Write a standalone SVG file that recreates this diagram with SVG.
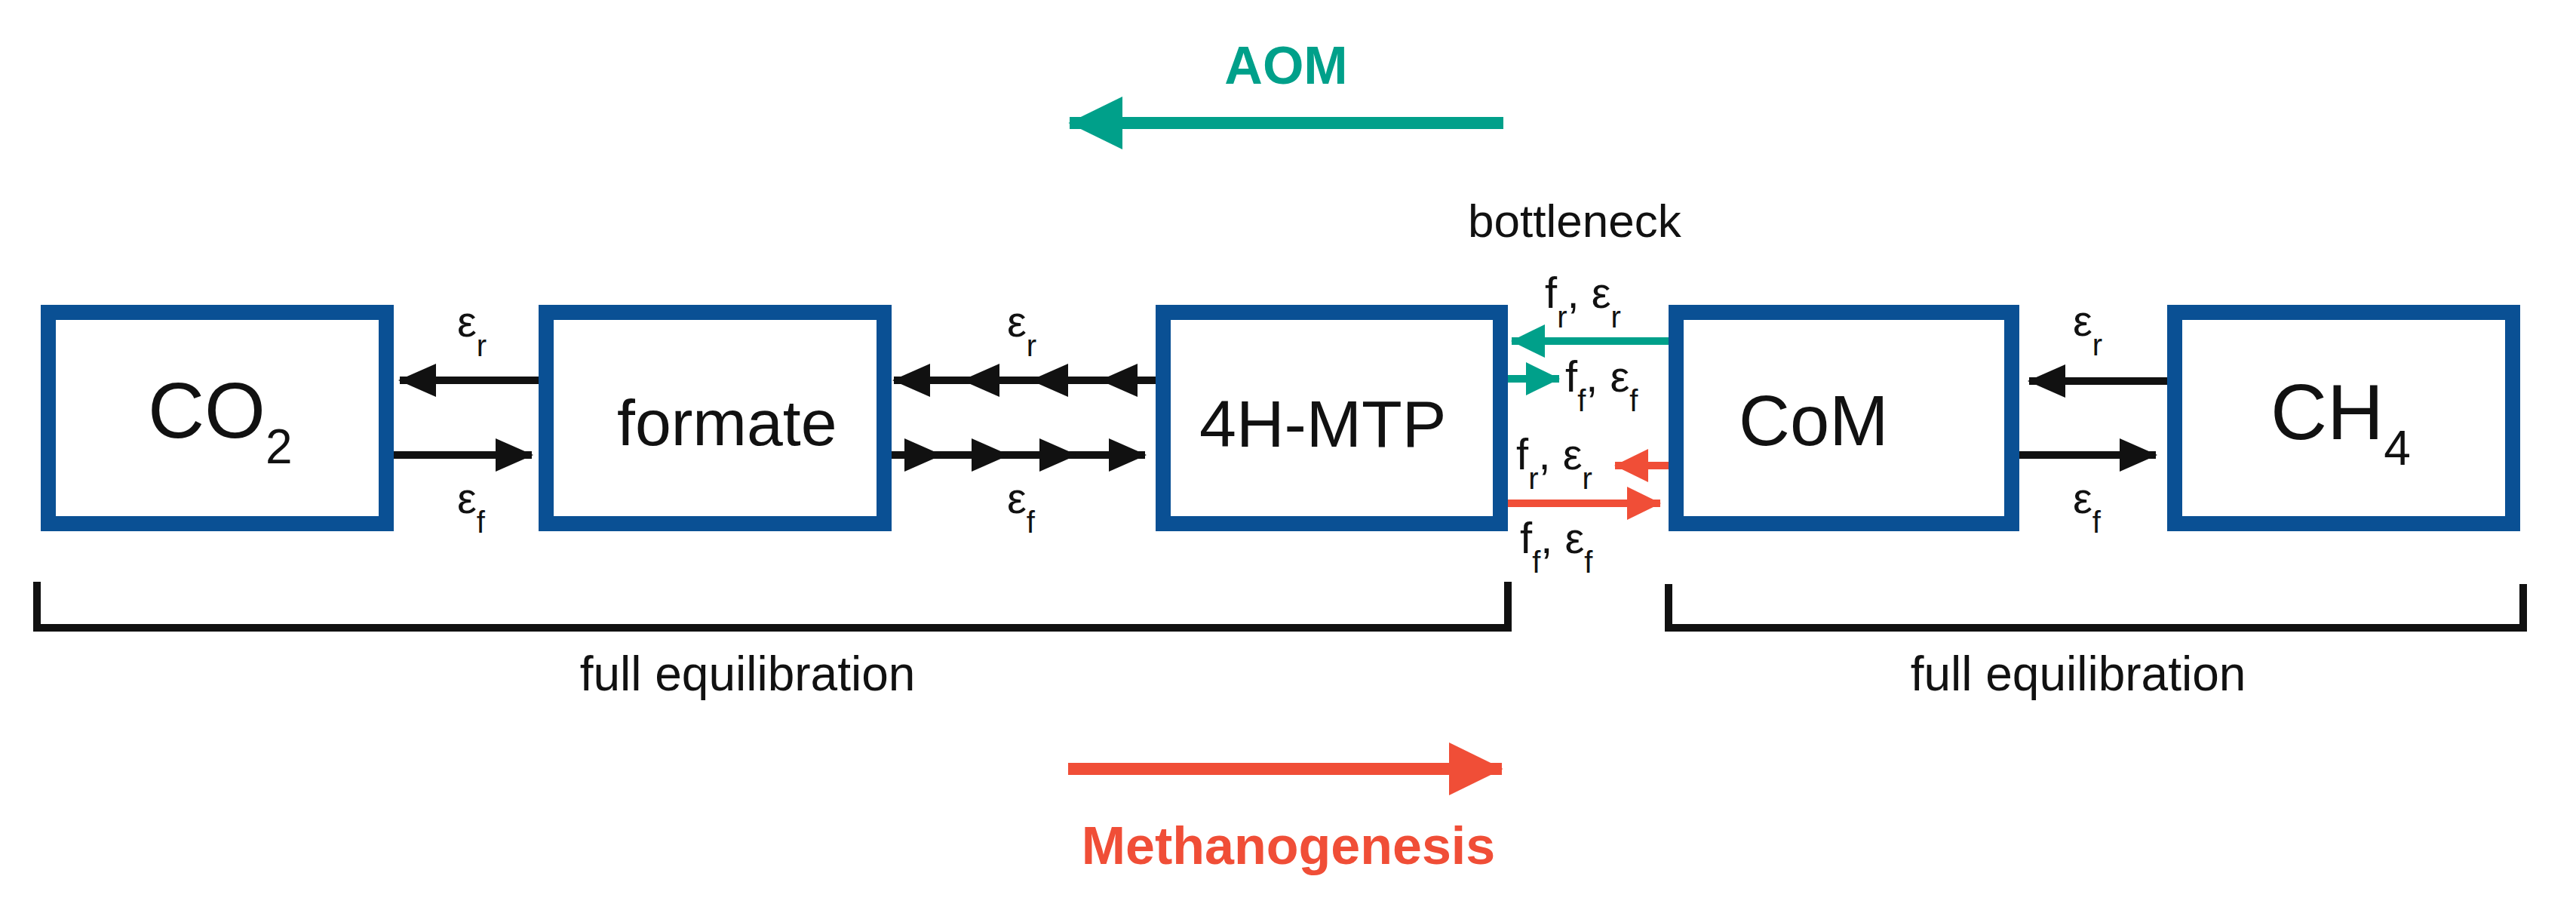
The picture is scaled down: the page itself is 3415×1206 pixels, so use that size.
<svg xmlns="http://www.w3.org/2000/svg" width="3415" height="1206" viewBox="0 0 3415 1206">
<style>
.box{fill:#fff;stroke:#0a5094;stroke-width:20}
.t{font-family:"Liberation Sans",Arial,sans-serif;fill:#111}
.big{font-size:104px}
.eps{font-size:58px}
.sub{font-size:40px}
.nsub{font-size:64px}
.blk{stroke:#111;stroke-width:10;fill:none}
</style>
<defs>
<marker id="hb" markerWidth="5" markerHeight="4.4" refX="4.8" refY="2.2" orient="auto" markerUnits="strokeWidth"><path d="M0,0 L5,2.2 L0,4.4 Z" fill="#111"/></marker>
<marker id="ht" markerWidth="4.5" markerHeight="4.4" refX="4.4" refY="2.2" orient="auto" markerUnits="strokeWidth"><path d="M0,0 L4.5,2.2 L0,4.4 Z" fill="#00a08a"/></marker>
<marker id="hr" markerWidth="4.5" markerHeight="4.4" refX="4.4" refY="2.2" orient="auto" markerUnits="strokeWidth"><path d="M0,0 L4.5,2.2 L0,4.4 Z" fill="#f04e37"/></marker>
</defs>
<rect width="3415" height="1206" fill="#fff"/>
<g id="CO2"><rect class="box" x="64" y="414" width="448" height="280"/><text class="t big" x="196" y="580">CO<tspan class="nsub" dy="34">2</tspan></text></g>
<g id="formate"><rect class="box" x="724" y="414" width="448" height="280"/><text class="t" font-size="86" x="818" y="590">formate</text></g>
<g id="mtp"><rect class="box" x="1542" y="414" width="447" height="280"/><text class="t" font-size="88" x="1590" y="592">4H-MTP</text></g>
<g id="CoM"><rect class="box" x="2222" y="414" width="445" height="280"/><text class="t" font-size="94" x="2305" y="590">CoM</text></g>
<g id="CH4"><rect class="box" x="2883" y="414" width="448" height="280"/><text class="t big" x="3010" y="582">CH<tspan class="nsub" dy="34">4</tspan></text></g>
<g id="connectors">
<line class="blk" x1="714" y1="504" x2="530" y2="504" marker-end="url(#hb)"/>
<line class="blk" x1="522" y1="603" x2="705" y2="603" marker-end="url(#hb)"/>
<line class="blk" x1="1532" y1="504" x2="1460" y2="504" marker-end="url(#hb)"/>
<line class="blk" x1="1460" y1="504" x2="1368" y2="504" marker-end="url(#hb)"/>
<line class="blk" x1="1368" y1="504" x2="1277" y2="504" marker-end="url(#hb)"/>
<line class="blk" x1="1277" y1="504" x2="1185" y2="504" marker-end="url(#hb)"/>
<line class="blk" x1="1182" y1="603" x2="1247" y2="603" marker-end="url(#hb)"/>
<line class="blk" x1="1247" y1="603" x2="1336" y2="603" marker-end="url(#hb)"/>
<line class="blk" x1="1336" y1="603" x2="1426" y2="603" marker-end="url(#hb)"/>
<line class="blk" x1="1426" y1="603" x2="1518" y2="603" marker-end="url(#hb)"/>
<line class="blk" x1="2873" y1="505" x2="2690" y2="505" marker-end="url(#hb)"/>
<line class="blk" x1="2677" y1="603" x2="2858" y2="603" marker-end="url(#hb)"/>
<line stroke="#00a08a" stroke-width="10" x1="2212" y1="452" x2="2004" y2="452" marker-end="url(#ht)"/>
<line stroke="#00a08a" stroke-width="10" x1="1999" y1="502" x2="2067" y2="502" marker-end="url(#ht)"/>
<line stroke="#f04e37" stroke-width="10" x1="2212" y1="617" x2="2141" y2="617" marker-end="url(#hr)"/>
<line stroke="#f04e37" stroke-width="10" x1="1999" y1="667" x2="2201" y2="667" marker-end="url(#hr)"/>
<line stroke="#00a08a" stroke-width="16" x1="1993" y1="163" x2="1418" y2="163" marker-end="url(#ht)"/>
<line stroke="#f04e37" stroke-width="16" x1="1416" y1="1019" x2="1991" y2="1019" marker-end="url(#hr)"/>
<path class="blk" d="M49,771 V832 H1999 V771"/>
<path class="blk" d="M2212,774 V832 H3345 V774"/>
</g>
<g class="t eps">
<text x="606" y="446">ε<tspan class="sub" dy="26">r</tspan></text>
<text x="606" y="680">ε<tspan class="sub" dy="26">f</tspan></text>
<text x="1335" y="446">ε<tspan class="sub" dy="26">r</tspan></text>
<text x="1335" y="680">ε<tspan class="sub" dy="26">f</tspan></text>
<text x="2748" y="445">ε<tspan class="sub" dy="26">r</tspan></text>
<text x="2748" y="680">ε<tspan class="sub" dy="26">f</tspan></text>
<text x="2048" y="408">f<tspan class="sub" dy="26">r</tspan><tspan dy="-26">, ε</tspan><tspan class="sub" dy="26">r</tspan></text>
<text x="2075" y="519">f<tspan class="sub" dy="26">f</tspan><tspan dy="-26">, ε</tspan><tspan class="sub" dy="26">f</tspan></text>
<text x="2010" y="622">f<tspan class="sub" dy="26">r</tspan><tspan dy="-26">, ε</tspan><tspan class="sub" dy="26">r</tspan></text>
<text x="2015" y="733">f<tspan class="sub" dy="26">f</tspan><tspan dy="-26">, ε</tspan><tspan class="sub" dy="26">f</tspan></text>
</g>
<text class="t" font-size="62" x="1946" y="314">bottleneck</text>
<text class="t" font-size="64" x="991" y="915" text-anchor="middle">full equilibration</text>
<text class="t" font-size="64" x="2755" y="915" text-anchor="middle">full equilibration</text>
<text font-family="Liberation Sans,Arial,sans-serif" font-weight="bold" font-size="70" fill="#00a08a" x="1705" y="111" text-anchor="middle">AOM</text>
<text font-family="Liberation Sans,Arial,sans-serif" font-weight="bold" font-size="70" fill="#f04e37" x="1708" y="1145" text-anchor="middle">Methanogenesis</text>
</svg>
